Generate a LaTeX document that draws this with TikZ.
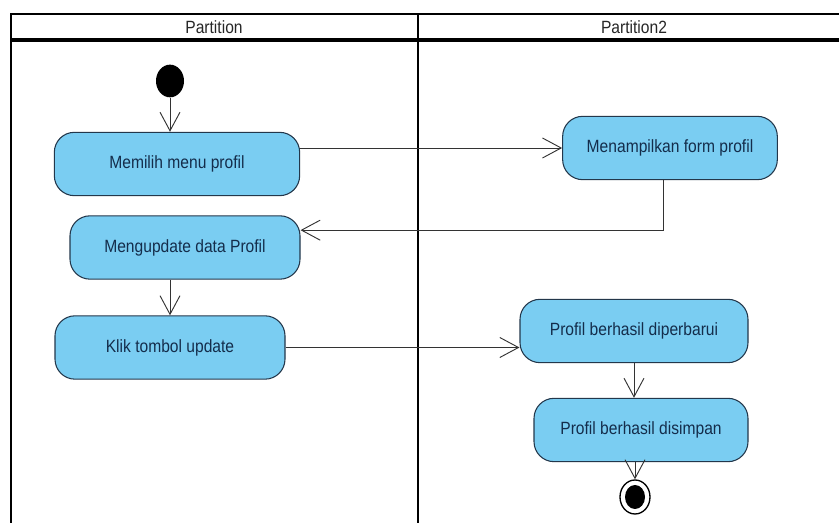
\documentclass[tikz,border=0pt]{standalone}
\usepackage{fontspec}
\setmainfont{Liberation Sans}[FakeStretch=0.88]
\usetikzlibrary{arrows.meta, shapes.geometric}
\definecolor{actfill}{RGB}{122,205,242}
\definecolor{actline}{RGB}{35,55,75}
\definecolor{acttext}{RGB}{20,45,75}
\begin{document}
\begin{tikzpicture}[x=0.75pt, y=-0.75pt, every node/.style={align=center, font=\fontsize{13.3}{15}\selectfont}]
	\tikzstyle{act} = [shape=rectangle, rounded corners=15pt, draw=actline, line width=0.8pt, fill=actfill, text=acttext, minimum height=47.5pt, inner sep=2pt]
	\tikzstyle{flow} = [draw=black!80, line width=0.7pt, -{Straight Barb[length=14pt, width=15pt]}]
	\tikzstyle{lane} = [text=black!85]
	\useasboundingbox (0,0) rectangle (839,523);
	\draw[line width=2pt] (11,523) -- (11,14) -- (839,14);
	\draw[line width=2.5pt] (11,40) -- (839,40);
	\draw[line width=2pt] (418,14) -- (418,523);
	\node[lane] (lane1) at (214,27) {Partition};
	\node[lane] (lane2) at (634,27) {Partition2};
	\node[ellipse, fill=black, minimum width=21pt, minimum height=24.5pt, inner sep=0pt] (start) at (170,81) {};
	\node[act, minimum width=184pt] (pilih) at (177,164) {Memilih menu profil};
	\node[act, minimum width=172.5pt] (upd) at (185,247.5) {Mengupdate data Profil};
	\node[act, minimum width=172.5pt] (klik) at (170,347.5) {Klik tombol update};
	\node[act, minimum width=161pt] (form) at (670,148) {Menampilkan form profil};
	\node[act, minimum width=171pt] (baru) at (634,331) {Profil berhasil diperbarui};
	\node[act, minimum width=160.5pt] (simpan) at (641,430) {Profil berhasil disimpan};
	\node[ellipse, draw=black, line width=1pt, fill=white, minimum width=22.5pt, minimum height=25.5pt, inner sep=0pt] (fin) at (635,497) {};
	\node[ellipse, fill=black, minimum width=15pt, minimum height=18pt, inner sep=0pt] (fin in) at (fin) {};
	\draw[flow] (start.south) -- (start.south |- pilih.north);
	\draw[flow] (pilih.east |- form.west) -- (form.west);
	\draw[flow] ([xshift=-5pt]form.south) |- ([yshift=13pt]upd.east);
	\draw[flow] (klik.north |- upd.south) -- (klik.north);
	\draw[flow] (klik.east) -- (klik.east -| baru.west);
	\draw[flow] (baru.south) -- (baru.south |- simpan.north);
	\draw[flow] (simpan.south -| fin) -- (fin.north);
\end{tikzpicture}
\end{document}
